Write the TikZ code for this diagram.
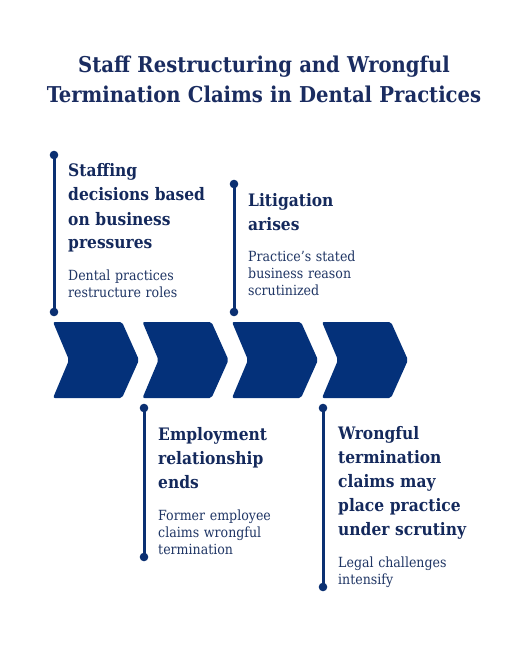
\documentclass[tikz,border=0pt]{standalone}
\usepackage{fontspec}
\setmainfont{DejaVu Serif Condensed}
\definecolor{chev}{HTML}{04317A}
\definecolor{linec}{HTML}{0B3072}
\definecolor{headc}{HTML}{14295C}
\definecolor{bodyc}{HTML}{1F3564}
\definecolor{titlec}{HTML}{1A2C60}
\tikzset{
  chevron/.style={fill=chev, draw=none, rounded corners=2pt},
  stem/.style={draw=linec, line width=3pt},
  dot/.style={fill=linec, draw=none},
  headtext/.style={anchor=base west, inner sep=0pt, text width=220pt, align=left, text=headc,
    font=\fontsize{17.2}{24}\selectfont\bfseries},
  bodytext/.style={anchor=base west, inner sep=0pt, text width=220pt, align=left, text=bodyc,
    font=\fontsize{14}{17.3}\selectfont},
  titletext/.style={anchor=base, inner sep=0pt, text width=520pt, align=center, text=titlec,
    font=\fontsize{21.8}{30}\selectfont\bfseries}
}
\begin{document}
\begin{tikzpicture}[x=1pt,y=-1pt]
\useasboundingbox (0,0) rectangle (528,660);
% title
\node[titletext] (title) at (264,73) {Staff Restructuring and Wrongful\\Termination Claims in Dental Practices};
% chevrons
\foreach \x in {53,142.5,232,322}{
  \fill[chevron] (\x,322) -- ++(69,0) -- ++(17,38) -- ++(-17,38) -- ++(-69,0) -- ++(16,-38) -- cycle;
}
% stems
\coordinate (s1a) at (54,155);  \coordinate (s1b) at (54,312);
\coordinate (s2a) at (234,184); \coordinate (s2b) at (234,312);
\coordinate (s3a) at (144,408); \coordinate (s3b) at (144,557);
\coordinate (s4a) at (323,408); \coordinate (s4b) at (323,587);
\foreach \a/\b in {s1a/s1b,s2a/s2b,s3a/s3b,s4a/s4b}{
  \draw[stem] (\a) -- (\b);
  \fill[dot] (\a) circle (4.3);
  \fill[dot] (\b) circle (4.3);
}
% texts
\node[headtext] (h1) at (68,177) {Staffing\\decisions based\\on business\\pressures};
\node[bodytext] (b1) at (68,280) {Dental practices\\restructure roles};
\node[headtext] (h2) at (248,207) {Litigation\\arises};
\node[bodytext] (b2) at (248,261) {Practice{\char"0027}s stated\\business reason\\scrutinized};
\node[headtext] (h3) at (158,440) {Employment\\relationship\\ends};
\node[bodytext] (b3) at (158,520) {Former employee\\claims wrongful\\termination};
\node[headtext] (h4) at (338,439) {Wrongful\\termination\\claims may\\place practice\\under scrutiny};
\node[bodytext] (b4) at (338,567) {Legal challenges\\intensify};
\end{tikzpicture}
\end{document}
